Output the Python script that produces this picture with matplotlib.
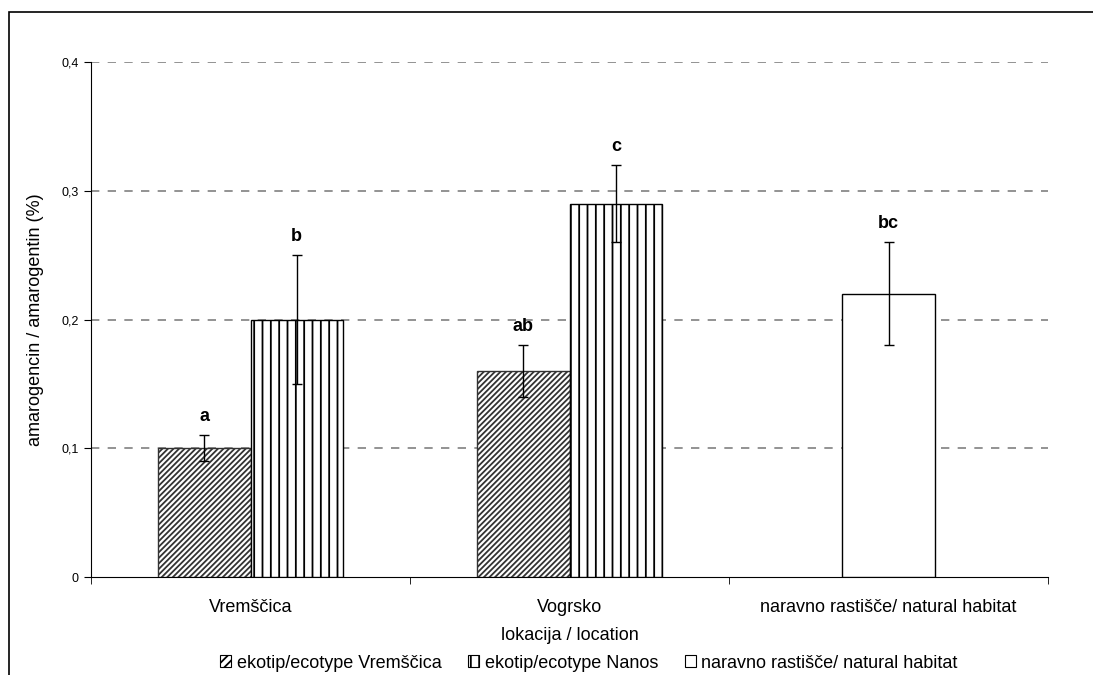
import numpy as np
import matplotlib
matplotlib.use('Agg')
from matplotlib import pyplot as plt
from matplotlib.patches import Rectangle, Patch

# data
locations = ['Vremščica', 'Vogrsko', 'naravno rastišče/ natural habitat']
series_names = ['ekotip/ecotype Vremščica', 'ekotip/ecotype Nanos',
                'naravno rastišče/ natural habitat']
vremscica_vals = [0.10, 0.16]
vremscica_err = [0.01, 0.02]
nanos_vals = [0.20, 0.29]
nanos_err = [0.05, 0.03]
natural_vals = [0.22]
natural_err = [0.04]
letters_vrem = ['a', 'ab']
letters_nanos = ['b', 'c']
letters_nat = ['bc']
yticks = [0, 0.1, 0.2, 0.3, 0.4]
ytick_labels = ['0', '0,1', '0,2', '0,3', '0,4']

plt.rcParams['font.family'] = ['Liberation Sans', 'DejaVu Sans']
plt.rcParams['hatch.linewidth'] = 1.3

fig = plt.figure(figsize=(10.93, 6.75), dpi=100)
ax = fig.add_axes([91/1093, 1-577/675, (1048-91)/1093, (577-62)/675])

w = 0.29
centers = np.arange(len(locations)) + 0.5
x1 = centers[:2] - w/2
x2 = centers[:2] + w/2
x3 = centers[2:]

# dashed gridlines (not at zero)
for yv in yticks[1:]:
    ax.axhline(yv, linestyle=(0, (5, 5)), color='#808080', linewidth=1.2, zorder=1)

ekw = dict(ecolor='black', elinewidth=1, capsize=3.5, capthick=1)
ax.bar(x1, vremscica_vals, w, color='white', edgecolor='#333333', hatch='//////',
       linewidth=1, yerr=vremscica_err, error_kw=ekw, zorder=3)
ax.bar(x2, nanos_vals, w, color='white', edgecolor='black', hatch='||',
       linewidth=1, yerr=nanos_err, error_kw=ekw, zorder=3)
ax.bar(x3, natural_vals, w, color='white', edgecolor='black',
       linewidth=1, yerr=natural_err, error_kw=ekw, zorder=3)

for xs, vals, errs, labs in [(x1, vremscica_vals, vremscica_err, letters_vrem),
                             (x2, nanos_vals, nanos_err, letters_nanos),
                             (x3, natural_vals, natural_err, letters_nat)]:
    for xx, v, e, l in zip(xs, vals, errs, labs):
        ax.text(xx, v + e + 0.008, l, ha='center', va='bottom',
                fontsize=13, fontweight='bold')

ax.set_xlim(0, 3)
ax.set_ylim(0, 0.4)
ax.set_yticks(yticks)
ax.set_yticklabels(ytick_labels, fontsize=9)

ax.set_xticks(centers)
ax.set_xticklabels(locations, fontsize=13)
ax.tick_params(axis='x', which='major', length=0, pad=16)
ax.set_xticks([0, 1, 2, 3], minor=True)
ax.tick_params(axis='x', which='minor', length=5, direction='out')
ax.tick_params(axis='y', length=5, direction='out', pad=4)

for s in ['top', 'right']:
    ax.spines[s].set_visible(False)

ax.set_ylabel('amarogencin / amarogentin (%)', fontsize=13, labelpad=12)
ax.set_xlabel('lokacija / location', fontsize=13, labelpad=8)

handles = [Patch(facecolor='white', edgecolor='black', hatch='////', linewidth=0.8),
           Patch(facecolor='white', edgecolor='black', hatch='||', linewidth=0.8),
           Patch(facecolor='white', edgecolor='black', linewidth=0.8)]
fig.legend(handles, series_names, loc='center', ncol=3,
           bbox_to_anchor=(589/1093, 1-663/675), frameon=False, fontsize=13,
           handlelength=0.6, handleheight=0.6, handletextpad=0.3,
           columnspacing=1.5, borderpad=0)

# outer chart frame
fig.patches.append(Rectangle((9/1093, -0.1), 1.2, 1.1 - 12/675,
                             transform=fig.transFigure, fill=False,
                             edgecolor='black', linewidth=1.2))

fig.savefig('out.png', dpi=100)
